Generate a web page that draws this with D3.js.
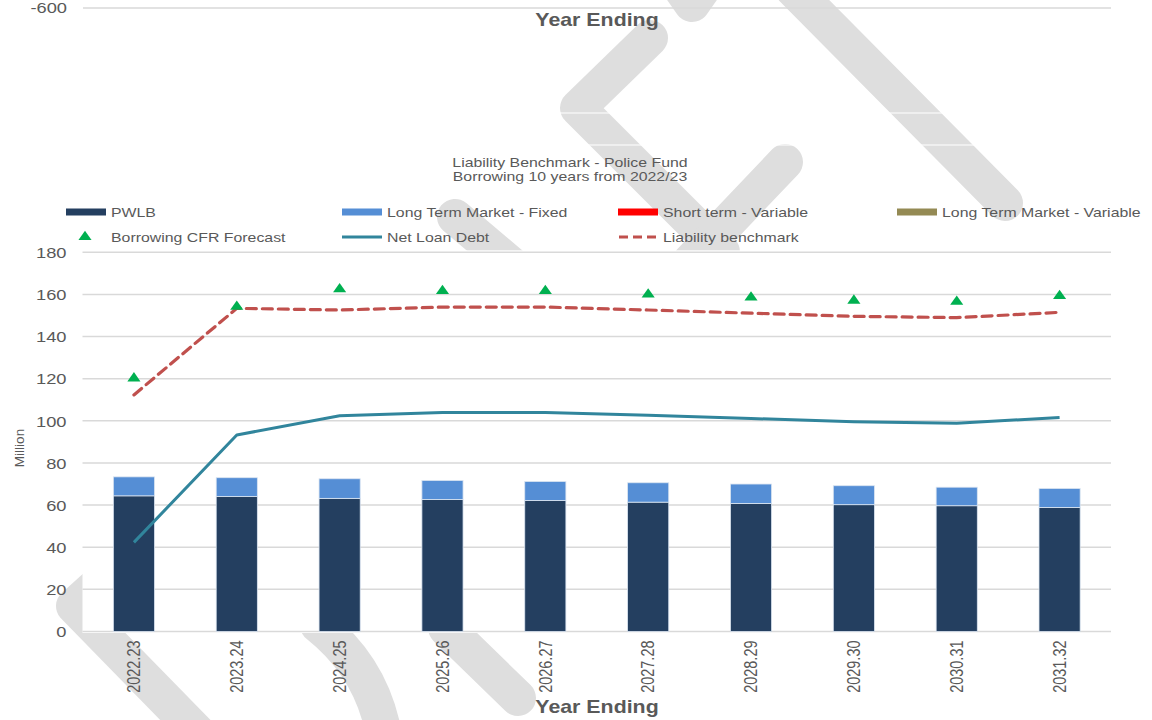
<!DOCTYPE html>
<html>
<head>
<meta charset="utf-8">
<script src="https://cdn.jsdelivr.net/npm/d3@7"></script>
<style>
  html, body { margin: 0; padding: 0; background: #ffffff; }
  svg { display: block; font-family: "Liberation Sans", Arial, sans-serif; }
</style>
</head>
<body>
<svg id="chart" width="1152" height="720"></svg>
<script>
// ---- Data (£ million) ----
const years = ["2022.23","2023.24","2024.25","2025.26","2026.27","2027.28","2028.29","2029.30","2030.31","2031.32"];
const pwlb = [64.4, 64.1, 63.2, 62.7, 62.2, 61.4, 60.8, 60.2, 59.7, 58.9];
const ltmFixed = [9.0, 8.9, 9.3, 9.0, 9.0, 9.2, 9.2, 9.0, 8.8, 9.0];
const shortTermVariable = [0, 0, 0, 0, 0, 0, 0, 0, 0, 0];
const ltmVariable = [0, 0, 0, 0, 0, 0, 0, 0, 0, 0];
const cfrForecast = [120.2, 154.2, 162.5, 161.7, 161.7, 160.0, 158.6, 157.1, 156.6, 159.3];
const netLoanDebt = [42.3, 93.3, 102.4, 103.9, 103.9, 102.6, 101.1, 99.6, 98.8, 101.6];
const liabilityBenchmark = [112.3, 153.4, 152.6, 154.0, 154.0, 152.6, 151.1, 149.6, 149.0, 151.5];
const yTicks = [0, 20, 40, 60, 80, 100, 120, 140, 160, 180];

const titleLines = ["Liability Benchmark - Police Fund", "Borrowing 10 years from 2022/23"];
const xTitle = "Year Ending";
const yTitle = "Million";

const colors = {
  pwlb: "#243f60",
  fixed: "#558ed5",
  shortVar: "#ff0000",
  ltmVar: "#948a54",
  cfr: "#00b050",
  nld: "#31859c",
  lb: "#c0504d",
  text: "#595959",
  grid: "#d9d9d9",
  watermark: "#dedede"
};

// text in this layout is set slightly wide
const STRETCH = 1.22;

const svg = d3.select("#chart");
const plot = { left: 82.5, right: 1111, top: 252.3, bottom: 631.5 };

// helper: place horizontally-stretched text at (x, y)
function wideText(parent, x, y, str, opts) {
  const t = parent.append("text")
    .attr("transform", `translate(${x},${y}) scale(${STRETCH},1)`)
    .attr("dy", "0.35em")
    .attr("text-anchor", opts.anchor || "start")
    .attr("font-size", opts.size)
    .attr("fill", colors.text)
    .text(str);
  if (opts.bold) t.attr("font-weight", "bold");
  return t;
}

// ---- Background watermark (grey ribbons) ----
const wm = svg.append("g").attr("fill", "none").attr("stroke", colors.watermark)
  .attr("stroke-width", 36).attr("stroke-linecap", "round").attr("stroke-linejoin", "round");
const ribbons = [
  "M650,38 L578,108 L722,252",
  "M668,-30 L692,4 L716,-30",
  "M792,-12 L1005,203",
  "M785,162 L690,262",
  "M455,217 L520,272",
  "M125,560 L74,606 L200,735",
  "M318,625 Q372,668 384,735",
  "M446,628 L518,698"
];
ribbons.forEach(d => wm.append("path").attr("d", d));

// thin white rules crossing the ribbons
[113, 145].forEach(yy => {
  svg.append("line").attr("x1", 83).attr("x2", 1111).attr("y1", yy).attr("y2", yy)
    .attr("stroke", "#ffffff").attr("stroke-width", 1.2);
});

// ---- Residual header of the chart above ----
svg.append("line").attr("x1", 83).attr("x2", 1111).attr("y1", 8).attr("y2", 8)
  .attr("stroke", colors.grid).attr("stroke-width", 1.3);
wideText(svg, 67, 8, "-600", { anchor: "end", size: 15 });
wideText(svg, 597, 20, xTitle, { anchor: "middle", size: 17.5, bold: true });

// ---- Plot area ----
svg.append("rect").attr("x", plot.left).attr("y", plot.top - 2)
  .attr("width", plot.right - plot.left).attr("height", plot.bottom - plot.top + 3.5)
  .attr("fill", "#ffffff");

const x = d3.scaleBand().domain(years).range([plot.left, plot.right]).paddingInner(0.6).paddingOuter(0.3);
const y = d3.scaleLinear().domain([0, 180]).range([plot.bottom, plot.top]);

// gridlines
svg.append("g").selectAll("line").data(yTicks).join("line")
  .attr("x1", plot.left).attr("x2", plot.right)
  .attr("y1", d => y(d)).attr("y2", d => y(d))
  .attr("stroke", colors.grid).attr("stroke-width", 1.5);

// y axis labels
const yAxis = svg.append("g").attr("transform", `translate(${plot.left},0)`)
  .call(d3.axisLeft(y).tickValues(yTicks).tickSize(0).tickPadding(16));
yAxis.select(".domain").remove();
yAxis.selectAll("text")
  .attr("x", null).attr("dy", "0.35em")
  .attr("transform", `translate(-16,0) scale(${STRETCH},1)`)
  .attr("font-size", 15).attr("fill", colors.text)
  .attr("font-family", "Liberation Sans, Arial, sans-serif");

// x axis labels (rotated)
const xAxis = svg.append("g").attr("transform", `translate(0,${plot.bottom})`)
  .call(d3.axisBottom(x).tickSize(0));
xAxis.select(".domain").remove();
xAxis.selectAll("text")
  .attr("transform", `scale(${STRETCH},1) rotate(-90)`)
  .attr("text-anchor", "end")
  .attr("x", -9).attr("y", 0).attr("dy", "0.35em")
  .attr("font-size", 14.5).attr("fill", colors.text)
  .attr("font-family", "Liberation Sans, Arial, sans-serif");

// axis titles
wideText(svg, 597, 707, xTitle, { anchor: "middle", size: 17.5, bold: true });
svg.append("text").attr("transform", "translate(19,448) rotate(-90)").attr("dy", "0.35em")
  .attr("text-anchor", "middle").attr("font-size", 13.5).attr("fill", colors.text).text(yTitle);

// ---- Stacked bars ----
const rows = years.map((yr, i) => ({ year: yr, pwlb: pwlb[i], fixed: ltmFixed[i], shortVar: shortTermVariable[i], ltmVar: ltmVariable[i] }));
const keys = ["pwlb", "fixed", "shortVar", "ltmVar"];
const stacked = d3.stack().keys(keys)(rows);
svg.append("g").selectAll("g").data(stacked).join("g")
  .attr("fill", s => colors[s.key])
  .selectAll("rect").data(s => s.filter(d => d[1] - d[0] > 0)).join("rect")
  .attr("x", d => x(d.data.year))
  .attr("width", x.bandwidth())
  .attr("y", d => y(d[1]))
  .attr("height", d => y(d[0]) - y(d[1]))
  .attr("stroke", "#dbe5f1").attr("stroke-width", 0.8);

const cx = (i) => x(years[i]) + x.bandwidth() / 2;

// ---- Net Loan Debt ----
svg.append("path").datum(netLoanDebt)
  .attr("fill", "none").attr("stroke", colors.nld).attr("stroke-width", 3).attr("stroke-linejoin", "round")
  .attr("d", d3.line().x((d, i) => cx(i)).y(d => y(d)));

// ---- Liability benchmark ----
svg.append("path").datum(liabilityBenchmark)
  .attr("fill", "none").attr("stroke", colors.lb).attr("stroke-width", 3.2)
  .attr("stroke-dasharray", "10,6").attr("stroke-linecap", "round")
  .attr("d", d3.line().x((d, i) => cx(i)).y(d => y(d)));

// ---- Borrowing CFR forecast markers ----
const tri = d3.symbol().type(d3.symbolTriangle).size(50);
svg.append("g").selectAll("path").data(cfrForecast).join("path")
  .attr("transform", (d, i) => `translate(${cx(i)},${y(d)}) scale(${STRETCH},1)`)
  .attr("d", tri).attr("fill", colors.cfr);

// ---- Title ----
titleLines.forEach((line, i) => wideText(svg, 570, 162 + i * 14.5, line, { anchor: "middle", size: 13 }));

// ---- Legend ----
const legendItems = [
  { label: "PWLB", kind: "bar", color: colors.pwlb, x: 66, y: 212 },
  { label: "Long Term Market - Fixed", kind: "bar", color: colors.fixed, x: 342, y: 212 },
  { label: "Short term - Variable", kind: "bar", color: colors.shortVar, x: 618, y: 212 },
  { label: "Long Term Market - Variable", kind: "bar", color: colors.ltmVar, x: 897, y: 212 },
  { label: "Borrowing CFR Forecast", kind: "marker", color: colors.cfr, x: 66, y: 237 },
  { label: "Net Loan Debt", kind: "line", color: colors.nld, x: 342, y: 237 },
  { label: "Liability benchmark", kind: "dash", color: colors.lb, x: 618, y: 237 }
];
const lg = svg.append("g").selectAll("g").data(legendItems).join("g")
  .attr("transform", d => `translate(${d.x},${d.y})`);
lg.each(function (d) {
  const g = d3.select(this);
  if (d.kind === "bar") {
    g.append("rect").attr("x", 0).attr("y", -3.5).attr("width", 40).attr("height", 7).attr("fill", d.color);
  } else if (d.kind === "marker") {
    g.append("path").attr("transform", `translate(19,0) scale(${STRETCH},1)`).attr("d", tri).attr("fill", d.color);
  } else if (d.kind === "line") {
    g.append("line").attr("x1", 0).attr("x2", 40).attr("stroke", d.color).attr("stroke-width", 3);
  } else {
    g.append("line").attr("x1", 1).attr("x2", 40).attr("stroke", d.color).attr("stroke-width", 3.2)
      .attr("stroke-dasharray", "9,5");
  }
  wideText(g, 45, 0, d.label, { size: 13 });
});
</script>
</body>
</html>
